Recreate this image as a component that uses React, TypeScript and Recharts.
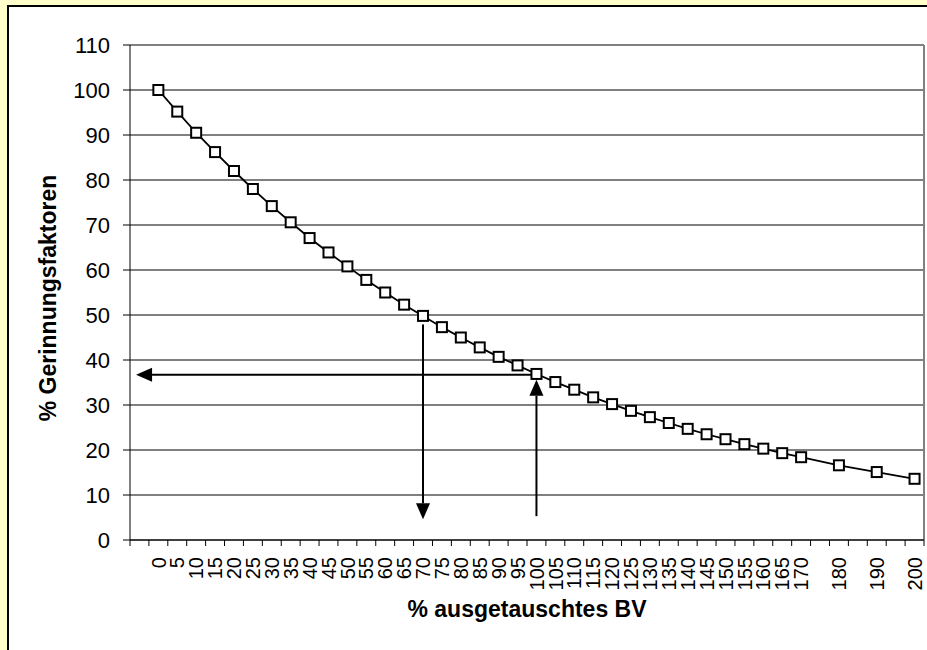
import React from 'react'
import { LineChart, Line, XAxis, YAxis, CartesianGrid, ReferenceLine } from 'recharts'

// x categories (% exchanged blood volume); leading slot and 175/185/195 are empty
const categories = [
  '', '0', '5', '10', '15', '20', '25', '30', '35', '40', '45', '50', '55', '60', '65',
  '70', '75', '80', '85', '90', '95', '100', '105', '110', '115', '120', '125', '130',
  '135', '140', '145', '150', '155', '160', '165', '170', '', '180', '', '190', '', '200',
]

// % coagulation factors remaining
const factors = [
  null, 100, 95.2, 90.5, 86.2, 82.0, 78.0, 74.2, 70.6, 67.1, 63.9, 60.8, 57.8, 55.0, 52.3,
  49.8, 47.3, 45.0, 42.8, 40.7, 38.8, 36.9, 35.1, 33.4, 31.7, 30.2, 28.7, 27.3,
  26.0, 24.7, 23.5, 22.4, 21.3, 20.3, 19.3, 18.4, null, 16.6, null, 15.1, null, 13.6,
]

const yTicks = [0, 10, 20, 30, 40, 50, 60, 70, 80, 90, 100, 110]

// annotation arrows, in category-slot / value units
const arrows = [
  { x1: 21.5, y1: 36.7, x2: 0.32, y2: 36.7 },
  { x1: 15.5, y1: 47.9, x2: 15.5, y2: 4.6 },
  { x1: 21.5, y1: 5.3, x2: 21.5, y2: 35.6 },
]

const data = categories.map((label, i) => ({ x: i + 0.5, label, value: factors[i] }))

const FONT = '"Liberation Sans", Arial, sans-serif'

const xTickValues: number[] = []
for (let i = 0; i <= categories.length; i++) {
  xTickValues.push(i)
  if (i < categories.length) xTickValues.push(i + 0.5)
}

function XTick({ x, y, payload }: any) {
  const v = payload.value as number
  if (Number.isInteger(v)) {
    return <line x1={x} y1={y} x2={x} y2={y + 6} stroke="#000" strokeWidth={1} />
  }
  const label = categories[Math.floor(v)]
  if (!label) return null
  const ty = y + 17
  return (
    <text
      x={x}
      y={ty}
      dy="0.36em"
      transform={`rotate(-90, ${x}, ${ty})`}
      textAnchor="end"
      fontSize={20}
      fontFamily={FONT}
      fill="#000"
    >
      {label}
    </text>
  )
}

function SquareDot({ cx, cy, value }: any) {
  if (value == null || cx == null) return null
  return <rect x={cx - 5} y={cy - 5} width={10} height={10} fill="#fff" stroke="#000" strokeWidth={2} />
}

function Arrow({ x1, y1, x2, y2 }: any) {
  const dx = x2 - x1
  const dy = y2 - y1
  const len = Math.sqrt(dx * dx + dy * dy) || 1
  const ux = dx / len
  const uy = dy / len
  const head = 16
  const half = 7
  const bx = x2 - ux * head
  const by = y2 - uy * head
  const pts = `${x2},${y2} ${bx - uy * half},${by + ux * half} ${bx + uy * half},${by - ux * half}`
  return (
    <g>
      <line x1={x1} y1={y1} x2={bx} y2={by} stroke="#000" strokeWidth={2} />
      <polygon points={pts} fill="#000" />
    </g>
  )
}

export default function App() {
  return (
    <div style={{ position: 'fixed', left: 0, top: 0, width: 927, height: 650, background: '#ffffcc', overflow: 'hidden' }}>
      <div
        style={{
          position: 'absolute',
          left: 7,
          top: 5,
          width: 940,
          height: 660,
          background: '#fff',
          borderLeft: '2px solid #000',
          borderTop: '2px solid #000',
        }}
      />
      <div style={{ position: 'absolute', left: 0, top: 0 }}>
        <LineChart width={927} height={650} data={data} margin={{ top: 45, right: 3, bottom: 50, left: 70 }}>
          <CartesianGrid vertical={false} stroke="#000" strokeWidth={1} />
          <XAxis
            dataKey="x"
            type="number"
            domain={[0, categories.length]}
            ticks={xTickValues}
            interval={0}
            tick={<XTick />}
            tickLine={false}
            tickSize={0}
            tickMargin={0}
            height={60}
            axisLine={{ stroke: '#000' }}
            allowDecimals
          />
          <YAxis
            type="number"
            domain={[0, 110]}
            ticks={yTicks}
            interval={0}
            width={60}
            tickSize={7}
            tickMargin={13}
            axisLine={{ stroke: '#000' }}
            tickLine={{ stroke: '#000' }}
            tick={{ fill: '#000', fontSize: 22, fontFamily: FONT }}
          />
          <ReferenceLine y={110} stroke="#808080" strokeWidth={2} />
          <ReferenceLine x={categories.length} stroke="#808080" strokeWidth={2} />
          <Line
            dataKey="value"
            stroke="#000"
            strokeWidth={1.8}
            connectNulls
            dot={<SquareDot />}
            activeDot={false}
            isAnimationActive={false}
          />
          {arrows.map((a, i) => (
            <ReferenceLine
              key={i}
              segment={[{ x: a.x1, y: a.y1 }, { x: a.x2, y: a.y2 }]}
              shape={(p: any) => <Arrow {...p} />}
            />
          ))}
        </LineChart>
      </div>
      <svg width={927} height={650} style={{ position: 'absolute', left: 0, top: 0, pointerEvents: 'none' }}>
        <text x={527} y={617} textAnchor="middle" fontSize={23} fontWeight="bold" fontFamily={FONT} fill="#000">
          % ausgetauschtes BV
        </text>
        <text
          x={56}
          y={298}
          transform="rotate(-90, 56, 298)"
          textAnchor="middle"
          fontSize={23}
          fontWeight="bold"
          fontFamily={FONT}
          fill="#000"
        >
          % Gerinnungsfaktoren
        </text>
      </svg>
    </div>
  )
}
